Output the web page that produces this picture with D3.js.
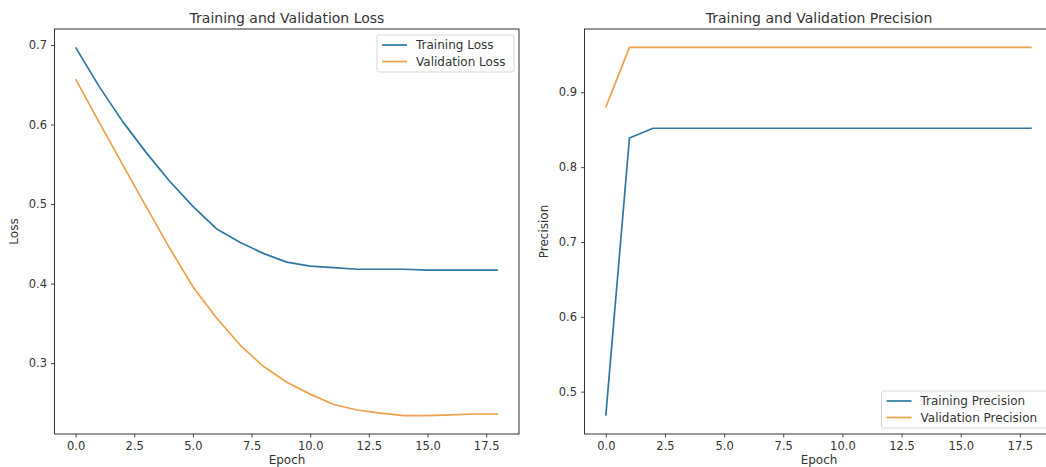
<!DOCTYPE html>
<html>
<head>
<meta charset="utf-8">
<script src="https://cdn.jsdelivr.net/npm/d3@7"></script>
<style>
  body { margin: 0; background: #fff; }
  svg text { font-family: "DejaVu Sans", sans-serif; fill: #333; }
</style>
</head>
<body>
<svg id="chart" width="1046" height="467"></svg>
<script>
// Per-epoch training history
const epochs = [0, 1, 2, 3, 4, 5, 6, 7, 8, 9, 10, 11, 12, 13, 14, 15, 16, 17, 18];
const trainLoss = [0.697, 0.648, 0.604, 0.565, 0.529, 0.497, 0.469, 0.452, 0.438, 0.427,
                   0.422, 0.420, 0.418, 0.418, 0.418, 0.417, 0.417, 0.417, 0.417];
const valLoss = [0.657, 0.603, 0.550, 0.497, 0.445, 0.396, 0.357, 0.323, 0.296, 0.276,
                 0.261, 0.248, 0.241, 0.237, 0.234, 0.234, 0.235, 0.236, 0.236];
const trainPrecision = [0.468, 0.839, 0.852, 0.852, 0.852, 0.852, 0.852, 0.852, 0.852, 0.852,
                        0.852, 0.852, 0.852, 0.852, 0.852, 0.852, 0.852, 0.852, 0.852];
const valPrecision = [0.880, 0.960, 0.960, 0.960, 0.960, 0.960, 0.960, 0.960, 0.960, 0.960,
                      0.960, 0.960, 0.960, 0.960, 0.960, 0.960, 0.960, 0.960, 0.960];

const epochTicks = [0, 2.5, 5, 7.5, 10, 12.5, 15, 17.5];
const lossTicks = [0.3, 0.4, 0.5, 0.6, 0.7];
const precisionTicks = [0.5, 0.6, 0.7, 0.8, 0.9];

const BLUE = "#2f76a3";
const ORANGE = "#eea04a";

const svg = d3.select("#chart");
svg.append("rect").attr("width", 1046).attr("height", 467).attr("fill", "#fff");

// axis limits padded by 5% of the data span on each side
function padded(values) {
  const [lo, hi] = d3.extent(values);
  const m = (hi - lo) * 0.05;
  return [lo - m, hi + m];
}

function panel(opts) {
  const { left, right, top, bottom } = opts.box;
  const x = d3.scaleLinear().domain(padded(epochs)).range([left, right]);
  const y = d3.scaleLinear().domain(padded(opts.series[0].values.concat(opts.series[1].values)))
              .range([bottom, top]);

  const g = svg.append("g");
  const clipId = "clip-" + opts.id;
  g.append("clipPath").attr("id", clipId)
    .append("rect").attr("x", left).attr("y", top)
    .attr("width", right - left).attr("height", bottom - top);

  // data lines
  const line = d3.line().x((d, i) => x(epochs[i])).y(d => y(d));
  opts.series.forEach(s => {
    g.append("path").datum(s.values)
      .attr("d", line).attr("fill", "none")
      .attr("stroke", s.color).attr("stroke-width", 1.7)
      .attr("stroke-linejoin", "round")
      .attr("clip-path", `url(#${clipId})`);
  });

  // axes
  const xAxis = d3.axisBottom(x).tickValues(epochTicks).tickFormat(d3.format(".1f"))
    .tickSizeInner(3.5).tickSizeOuter(0).tickPadding(4);
  const yAxis = d3.axisLeft(y).tickValues(opts.yTicks).tickFormat(d3.format(".1f"))
    .tickSizeInner(3.5).tickSizeOuter(0).tickPadding(4);
  const xg = g.append("g").attr("transform", `translate(0,${bottom})`).call(xAxis);
  const yg = g.append("g").attr("transform", `translate(${left},0)`).call(yAxis);
  [xg, yg].forEach(a => {
    a.select(".domain").remove();
    a.selectAll("line").attr("stroke", "#333").attr("stroke-width", 0.9);
    a.selectAll("text").attr("font-size", 11.5).attr("fill", "#333")
      .style("font-family", '"DejaVu Sans", sans-serif');
  });

  // frame
  g.append("rect").attr("x", left).attr("y", top)
    .attr("width", right - left).attr("height", bottom - top)
    .attr("fill", "none").attr("stroke", "#333").attr("stroke-width", 1);

  // titles and labels
  g.append("text").attr("x", opts.titleX).attr("y", 22.5)
    .attr("text-anchor", "middle").attr("font-size", 14).text(opts.title);
  g.append("text").attr("x", opts.titleX).attr("y", 463.5)
    .attr("text-anchor", "middle").attr("font-size", 12).text("Epoch");
  g.append("text")
    .attr("transform", `translate(${opts.yLabelX},${(top + bottom) / 2}) rotate(-90)`)
    .attr("text-anchor", "middle").attr("font-size", 12).text(opts.yLabel);

  // legend
  const L = opts.legend;
  const lg = g.append("g").attr("transform", `translate(${L.x},${L.y})`);
  lg.append("rect").attr("x", 0).attr("y", 0).attr("width", L.w).attr("height", 37)
    .attr("rx", 2).attr("fill", "#fff").attr("fill-opacity", 0.85)
    .attr("stroke", "#d6d6d6").attr("stroke-width", 1);
  opts.series.forEach((s, i) => {
    const yy = 10 + i * 16.5;
    lg.append("line").attr("x1", 5).attr("x2", 30).attr("y1", yy).attr("y2", yy)
      .attr("stroke", s.color).attr("stroke-width", 1.7);
    lg.append("text").attr("x", 39).attr("y", yy + 4.3).attr("font-size", 12).text(s.name);
  });
}

panel({
  id: "loss",
  box: { left: 54.5, right: 519, top: 29, bottom: 434 },
  series: [
    { name: "Training Loss", values: trainLoss, color: BLUE },
    { name: "Validation Loss", values: valLoss, color: ORANGE }
  ],
  yTicks: lossTicks,
  title: "Training and Validation Loss",
  titleX: 287,
  yLabel: "Loss",
  yLabelX: 18,
  legend: { x: 377, y: 35, w: 137 }
});

panel({
  id: "precision",
  box: { left: 584.5, right: 1053, top: 29, bottom: 434 },
  series: [
    { name: "Training Precision", values: trainPrecision, color: BLUE },
    { name: "Validation Precision", values: valPrecision, color: ORANGE }
  ],
  yTicks: precisionTicks,
  title: "Training and Validation Precision",
  titleX: 819,
  yLabel: "Precision",
  yLabelX: 548,
  legend: { x: 881.5, y: 391, w: 180 }
});
</script>
</body>
</html>
